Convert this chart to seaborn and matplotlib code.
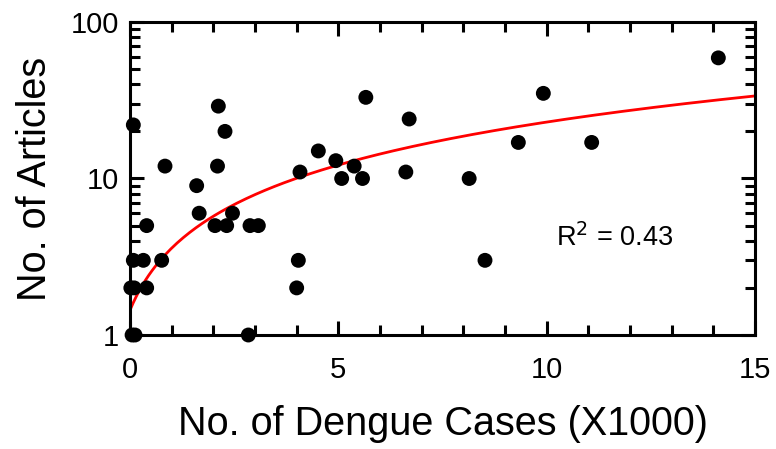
import numpy as np
import pandas as pd
import matplotlib
matplotlib.use("Agg")
import matplotlib.pyplot as plt
from matplotlib.ticker import FixedLocator, NullFormatter
import seaborn as sns

# Dengue cases (thousands) and number of articles per observation
dengue_cases = [0.05, 0.12, 2.84, 0.08, 0.02, 0.10, 0.40, 0.08, 0.32, 0.40,
                0.84, 0.76, 1.60, 1.66, 2.12, 2.28, 2.10, 2.04, 2.32, 2.46,
                2.88, 3.08, 4.04, 4.00, 4.08, 4.52, 4.94, 5.08, 5.38, 5.58,
                5.66, 6.70, 6.62, 8.14, 8.52, 9.32, 9.92, 11.08, 14.12]
articles = [1, 1, 1, 22, 2, 2, 2, 3, 3, 5,
            12, 3, 9, 6, 29, 20, 12, 5, 5, 6,
            5, 5, 3, 2, 11, 15, 13, 10, 12, 10,
            33, 24, 11, 10, 3, 17, 35, 17, 59]

# Linear regression line (articles = intercept + slope * cases)
fit_intercept = 1.44
fit_slope = 2.15
r_squared = 0.43

x_ticks = [0, 5, 10, 15]
y_ticks = [1, 10, 100]
y_tick_labels = ["1", "10", "100"]

sns.set_theme(style="ticks")
plt.rcParams["font.family"] = ["Liberation Sans", "DejaVu Sans"]
for key in ("text.color", "axes.labelcolor", "xtick.color", "ytick.color"):
    plt.rcParams[key] = "black"

df = pd.DataFrame({"cases": dengue_cases, "articles": articles})
fit_x = np.linspace(0, 15, 200)
fit_df = pd.DataFrame({"cases": fit_x, "articles": fit_intercept + fit_slope * fit_x})

fig = plt.figure(figsize=(7.76, 4.49), dpi=100)
ax = fig.add_axes([130 / 776, 1 - 335 / 449, 625 / 776, 313 / 449])

sns.lineplot(data=fit_df, x="cases", y="articles", ax=ax, color="#ff0000",
             linewidth=2.0, zorder=2)
sns.scatterplot(data=df, x="cases", y="articles", ax=ax, color="black",
                s=115, edgecolor="none", linewidth=0, zorder=3, clip_on=False)

ax.set_yscale("log")
ax.set_xlim(0, 15)
ax.set_ylim(1, 100)

ax.xaxis.set_major_locator(FixedLocator(x_ticks))
ax.xaxis.set_minor_locator(FixedLocator(np.arange(0, 16, 1)))
ax.yaxis.set_major_locator(FixedLocator(y_ticks))
ax.set_yticklabels(y_tick_labels)
minor_y = [m * d for d in (1, 10) for m in range(2, 10)]
ax.yaxis.set_minor_locator(FixedLocator(minor_y))
ax.yaxis.set_minor_formatter(NullFormatter())

for side in ("top", "right", "bottom", "left"):
    ax.spines[side].set_visible(True)
    ax.spines[side].set_linewidth(2.2)
    ax.spines[side].set_color("black")

ax.tick_params(which="both", direction="in", top=True, right=True,
               width=2.2, color="black")
ax.tick_params(which="major", length=10)
ax.tick_params(which="minor", length=7)
ax.tick_params(axis="x", which="major", pad=15, labelsize=21)
ax.tick_params(axis="y", which="major", pad=8, labelsize=21)

ax.set_xlabel("No. of Dengue Cases (X1000)", fontsize=28.5, labelpad=15)
ax.set_ylabel("No. of Articles", fontsize=28.5, labelpad=12)

ax.text(11.64, 4.17, "R$^2$ = " + f"{r_squared:.2f}", fontsize=19.5,
        ha="center", va="center", color="black")

fig.savefig("out.png", dpi=100)
